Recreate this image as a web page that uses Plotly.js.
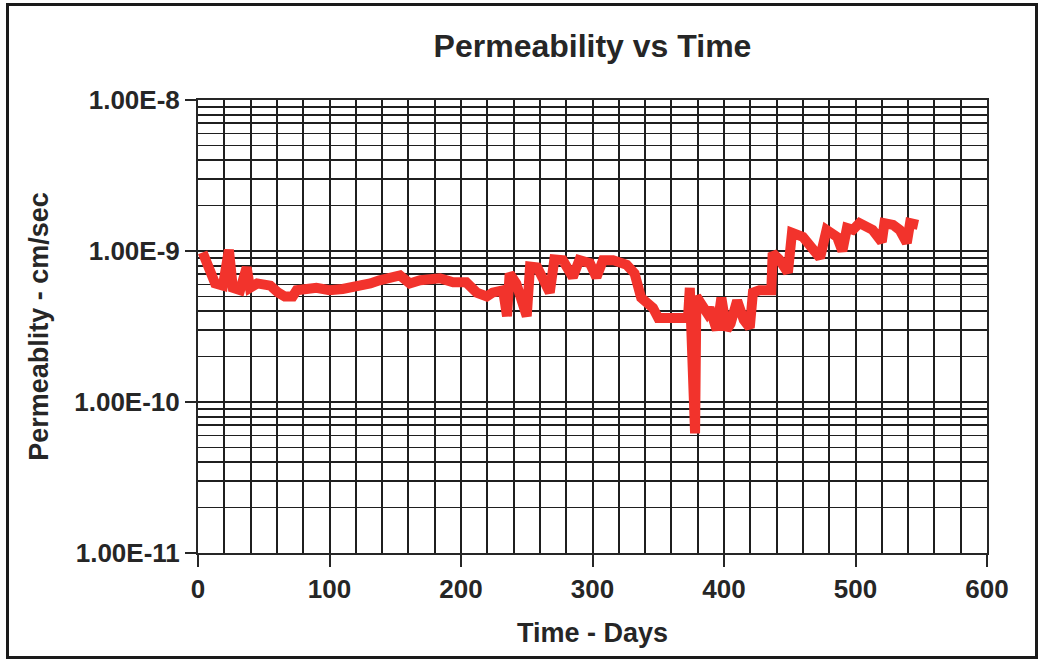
<!DOCTYPE html>
<html><head><meta charset="utf-8">
<script src="https://cdn.plot.ly/plotly-3.0.1.min.js"></script>
<style>
html,body{margin:0;padding:0;background:#fff;}
#wrap{position:relative;width:1041px;height:662px;overflow:hidden;}
#chart{width:1041px;height:662px;}
#frame{position:absolute;left:6px;top:3px;width:1026px;height:650px;border:3px solid #1a1a1a;pointer-events:none;}
</style></head>
<body><div id="wrap"><div id="chart"></div><div id="frame"></div></div>
<script>
const days = [3.5, 9, 13, 19, 23.5, 26.5, 32, 37, 39.5, 45, 55, 61, 66, 72, 75, 90, 100, 110, 121, 131, 138, 146, 153.6, 161, 169, 184, 194, 204, 212, 219.6, 224, 232, 235, 237, 242, 250, 252.5, 258, 267.5, 271, 277.5, 285, 290, 298, 303, 308, 315.6, 326, 332, 337, 341, 346, 350, 361, 372.6, 374, 378, 379, 383, 387, 389, 394.5, 398, 402, 405, 410, 415, 419.6, 422, 427, 436, 437, 442, 448.6, 451.7, 460, 473, 478, 486, 490, 493.5, 498, 503, 508.6, 513, 520, 522, 528.5, 533.6, 539, 541.5, 547.5];
const permeability = [0.98e-9, 0.77e-9, 0.61e-9, 0.59e-9, 1.02e-9, 0.57e-9, 0.55e-9, 0.78e-9, 0.57e-9, 0.61e-9, 0.59e-9, 0.53e-9, 0.50e-9, 0.50e-9, 0.55e-9, 0.57e-9, 0.55e-9, 0.56e-9, 0.58e-9, 0.61e-9, 0.64e-9, 0.67e-9, 0.69e-9, 0.61e-9, 0.64e-9, 0.66e-9, 0.62e-9, 0.62e-9, 0.53e-9, 0.50e-9, 0.53e-9, 0.55e-9, 0.37e-9, 0.71e-9, 0.61e-9, 0.37e-9, 0.79e-9, 0.78e-9, 0.53e-9, 0.88e-9, 0.87e-9, 0.67e-9, 0.87e-9, 0.83e-9, 0.67e-9, 0.87e-9, 0.87e-9, 0.81e-9, 0.71e-9, 0.49e-9, 0.46e-9, 0.42e-9, 0.36e-9, 0.36e-9, 0.36e-9, 0.57e-9, 0.062e-9, 0.50e-9, 0.45e-9, 0.39e-9, 0.42e-9, 0.30e-9, 0.49e-9, 0.30e-9, 0.33e-9, 0.47e-9, 0.35e-9, 0.31e-9, 0.53e-9, 0.55e-9, 0.55e-9, 0.97e-9, 0.88e-9, 0.72e-9, 1.32e-9, 1.24e-9, 0.90e-9, 1.38e-9, 1.24e-9, 1.0e-9, 1.42e-9, 1.38e-9, 1.53e-9, 1.44e-9, 1.38e-9, 1.15e-9, 1.53e-9, 1.49e-9, 1.38e-9, 1.13e-9, 1.53e-9, 1.49e-9];

const yTickVals = [1e-11, 1e-10, 1e-9, 1e-8];
const yTickText = ['1.00E-11', '1.00E-10', '1.00E-9', '1.00E-8'];
const xTickVals = [0, 100, 200, 300, 400, 500, 600];
const xTickText = ['0', '100', '200', '300', '400', '500', '600'];

// minor log gridlines at 2..9 of each decade
const yMinorVals = [];
[1e-11, 1e-10, 1e-9].forEach(d => { for (let k = 2; k <= 9; k++) yMinorVals.push(k * d); });

const FONT = 'Liberation Sans, Arial, Helvetica, sans-serif';
const INK = '#262626';
const GRID = '#1f1f1f';

const trace = {
  x: days, y: permeability, type: 'scatter', mode: 'lines',
  line: {color: '#f2332c', width: 10, shape: 'linear'},
  hoverinfo: 'x+y'
};

const layout = {
  width: 1041, height: 662,
  paper_bgcolor: '#ffffff', plot_bgcolor: '#ffffff',
  margin: {l: 198, r: 54, t: 100, b: 109},
  showlegend: false,
  title: {text: 'Permeability vs Time', x: 0.5, xref: 'paper', y: 1 - 46/662, yref: 'container', yanchor: 'middle',
          font: {family: FONT, size: 32, color: INK, weight: 700}},
  xaxis: {
    range: [0, 600], tickmode: 'array', tickvals: xTickVals, ticktext: xTickText,
    ticks: 'outside', ticklen: 12, tickwidth: 2, tickcolor: INK,
    showgrid: true, gridcolor: GRID, gridwidth: 2,
    showline: true, linecolor: INK, linewidth: 2, mirror: true, zeroline: false,
    minor: {dtick: 20, tick0: 0, showgrid: true, gridcolor: GRID, gridwidth: 2, ticks: ''},
    tickfont: {family: FONT, size: 26, color: INK, weight: 700},
    title: {text: 'Time - Days', standoff: 20, font: {family: FONT, size: 27, color: INK, weight: 700}}
  },
  yaxis: {
    type: 'log', range: [-11, -8], tickmode: 'array', tickvals: yTickVals, ticktext: yTickText,
    ticks: 'outside', ticklen: 11, tickwidth: 2, tickcolor: INK,
    showgrid: true, gridcolor: GRID, gridwidth: 2,
    showline: true, linecolor: INK, linewidth: 2, mirror: true, zeroline: false,
    minor: {tickmode: 'array', tickvals: yMinorVals, showgrid: true, gridcolor: GRID, gridwidth: 1.8, ticks: ''},
    tickfont: {family: FONT, size: 26, color: INK, weight: 700},
    title: {text: 'Permeablity - cm/sec', standoff: 18, font: {family: FONT, size: 27, color: INK, weight: 700}}
  }
};

Plotly.newPlot('chart', [trace], layout, {displayModeBar: false, staticPlot: true});
</script>
</body></html>
